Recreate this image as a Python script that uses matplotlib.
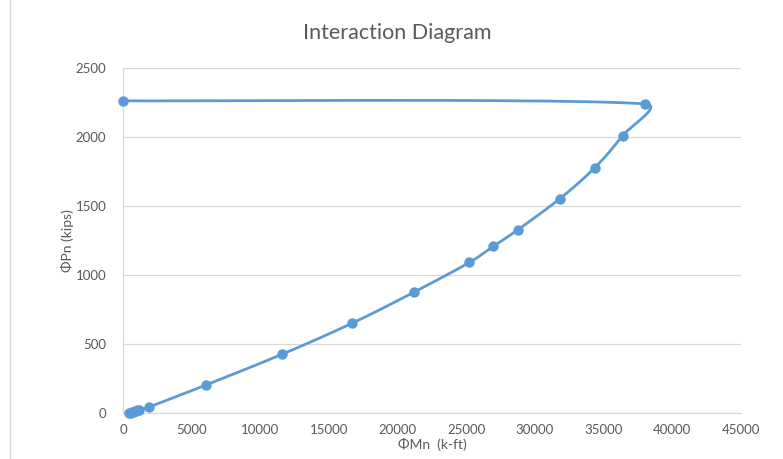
import numpy as np
import matplotlib
matplotlib.use("Agg")
import matplotlib.pyplot as plt
from matplotlib.lines import Line2D

# Data
phi_mn = [0, 38000, 36380, 34350, 31810, 28770, 26960, 25220, 21160, 16670,
          11590, 6010, 1880, 1200, 1050, 950, 850, 750, 650, 550, 450]
phi_pn = [2262, 2240, 2009, 1777, 1553, 1329, 1207, 1091, 874, 650,
          426, 202, 43, 25, 20, 16, 12, 9, 6, 3, 0]

x_ticks = [0, 5000, 10000, 15000, 20000, 25000, 30000, 35000, 40000, 45000]
y_ticks = [0, 500, 1000, 1500, 2000, 2500]

color = "#5B9BD5"
txt = "#595959"
plt.rcParams['font.family'] = ['Lato', 'DejaVu Sans']

fig = plt.figure(figsize=(7.83, 4.59), dpi=100)
ax = fig.add_axes([123/783, 1-413/459, (741-123)/783, (413-68)/459])
ax.set_xlim(0, 45000)
ax.set_ylim(0, 2500)


def smooth(xs, ys, sx, sy, n=60):
    P = np.column_stack([np.array(xs, float) / sx, np.array(ys, float) / sy])
    out = [P[0]]
    m = len(P)
    for i in range(m - 1):
        p0 = P[i - 1] if i > 0 else P[i]
        p1, p2 = P[i], P[i + 1]
        p3 = P[i + 2] if i + 2 < m else P[i + 1]
        d12 = np.linalg.norm(p2 - p1)
        t1 = (p2 - p0) / 6
        t2 = (p3 - p1) / 6
        for tv in (t1, t2):
            L = np.linalg.norm(tv)
            if L > d12 / 2 and L > 0:
                tv *= (d12 / 2) / L
        c1 = p1 + t1
        c2 = p2 - t2
        t = np.linspace(0, 1, n)[1:, None]
        seg = ((1 - t) ** 3) * p1 + 3 * ((1 - t) ** 2) * t * c1 + 3 * (1 - t) * t ** 2 * c2 + t ** 3 * p2
        out.extend(seg)
    out = np.array(out)
    return out[:, 0] * sx, out[:, 1] * sy


sx = 45000 / (741 - 123)
sy = 2500 / (413 - 68)
cx, cy = smooth(phi_mn, phi_pn, sx, sy)
ax.plot(cx, cy, color=color, lw=2.0, solid_capstyle='round', zorder=3, clip_on=False)
ax.plot(phi_mn, phi_pn, 'o', color=color, ms=6.5, zorder=4, clip_on=False)

ax.set_xticks(x_ticks)
ax.set_yticks(y_ticks)
ax.tick_params(length=0, colors=txt, labelsize=9.5)
ax.tick_params(axis='x', pad=8)
ax.tick_params(axis='y', pad=12)
ax.grid(axis='y', color='#D9D9D9', lw=0.9)
ax.set_axisbelow(True)
for s in ['top', 'right']:
    ax.spines[s].set_visible(False)
for s in ['left', 'bottom']:
    ax.spines[s].set_color('#D9D9D9')
    ax.spines[s].set_linewidth(0.9)

ax.set_xlabel("ΦMn  (k-ft)", color=txt, fontsize=10, labelpad=1)
ax.set_ylabel("ΦPn (kips)", color=txt, fontsize=10, labelpad=1)
fig.text(397/783, 1-33/459, "Interaction Diagram", ha='center', va='center',
         color=txt, fontsize=15.5)

fig.add_artist(Line2D([10/783, 10/783], [0, 1], color='#D9D9D9', lw=1,
                      transform=fig.transFigure))

fig.savefig("out.png", dpi=100)
